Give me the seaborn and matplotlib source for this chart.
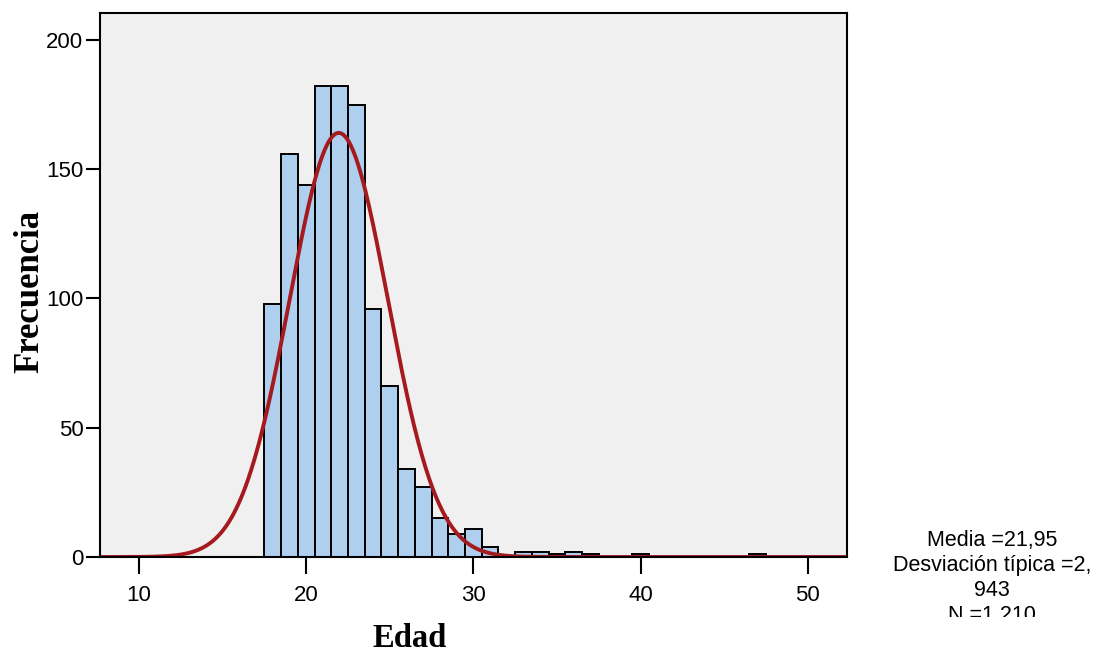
import numpy as np
import pandas as pd
import matplotlib
matplotlib.use("Agg")
import matplotlib.pyplot as plt
import seaborn as sns
from matplotlib.transforms import Bbox, TransformedBbox

# ---- data ----
edad = [18, 19, 20, 21, 22, 23, 24, 25, 26, 27, 28, 29, 30, 31, 33, 34, 35, 36, 37, 40, 47]
frecuencia = [98, 156, 144, 182, 182, 175, 96, 66, 34, 27, 15, 9, 11, 4, 2, 2, 1, 2, 1, 1, 1]
media = 21.95
desv = 2.943
n_total = 1210
x_ticks = [10, 20, 30, 40, 50]
y_ticks = [0, 50, 100, 150, 200]
stats_lines = ["Media =21,95", "Desviación típica =2,", "943", "N =1.210"]

sns.set_theme(style="white")
plt.rcParams["font.family"] = ["Liberation Sans", "DejaVu Sans"]
plt.rcParams["text.color"] = "black"
plt.rcParams["axes.labelcolor"] = "black"
plt.rcParams["xtick.color"] = "black"
plt.rcParams["ytick.color"] = "black"

fig = plt.figure(figsize=(11.08, 6.53), dpi=100)
ax = fig.add_axes([100/1108, (653-557)/653, (847-100)/1108, (557-12.5)/653])
ax.set_facecolor("#F0F0F0")

df = pd.DataFrame({"Edad": edad, "Frecuencia": frecuencia})
sns.histplot(data=df, x="Edad", weights="Frecuencia", binwidth=1.0, binrange=(17.5, 47.5),
             color="#AED0EE", edgecolor="black", linewidth=1.4, alpha=1, ax=ax)

xlim = (7.67, 52.35)
xs = np.linspace(xlim[0], xlim[1], 600)
ys = n_total * 1.0 / (desv * np.sqrt(2 * np.pi)) * np.exp(-0.5 * ((xs - media) / desv) ** 2)
sns.lineplot(x=xs, y=ys, color="#A51A1E", linewidth=2.8, ax=ax)

ax.set_xlim(*xlim)
ax.set_ylim(0, 210.6)
ax.set_xticks(x_ticks)
ax.set_yticks(y_ticks)
ax.tick_params(axis="x", direction="out", length=12, width=1.5, colors="black",
               labelsize=16, pad=8, bottom=True)
ax.tick_params(axis="y", direction="out", length=10, width=1.5, colors="black",
               labelsize=16, pad=2, left=True)
for s in ax.spines.values():
    s.set_visible(True)
    s.set_color("black")
    s.set_linewidth(1.5)

ax.set_xlabel("Edad", fontsize=23.5, fontweight="bold", family="Liberation Serif", color="black")
ax.set_ylabel("Frecuencia", fontsize=25, fontweight="bold", family="Liberation Serif", color="black")
ax.xaxis.set_label_coords(0.414, -0.122)
ax.yaxis.set_label_coords(-0.072, 0.4876)

clip = TransformedBbox(Bbox.from_extents(0, 36/653, 1, 1), fig.transFigure)
for i, line in enumerate(stats_lines):
    baseline_px = 546 + 25 * i
    t = fig.text(992/1108, 1 - baseline_px/653, line, ha="center", va="baseline",
                 fontsize=15.5, color="black")
    t.set_clip_box(clip)
    t.set_clip_on(True)

fig.savefig("out.png", dpi=100)
